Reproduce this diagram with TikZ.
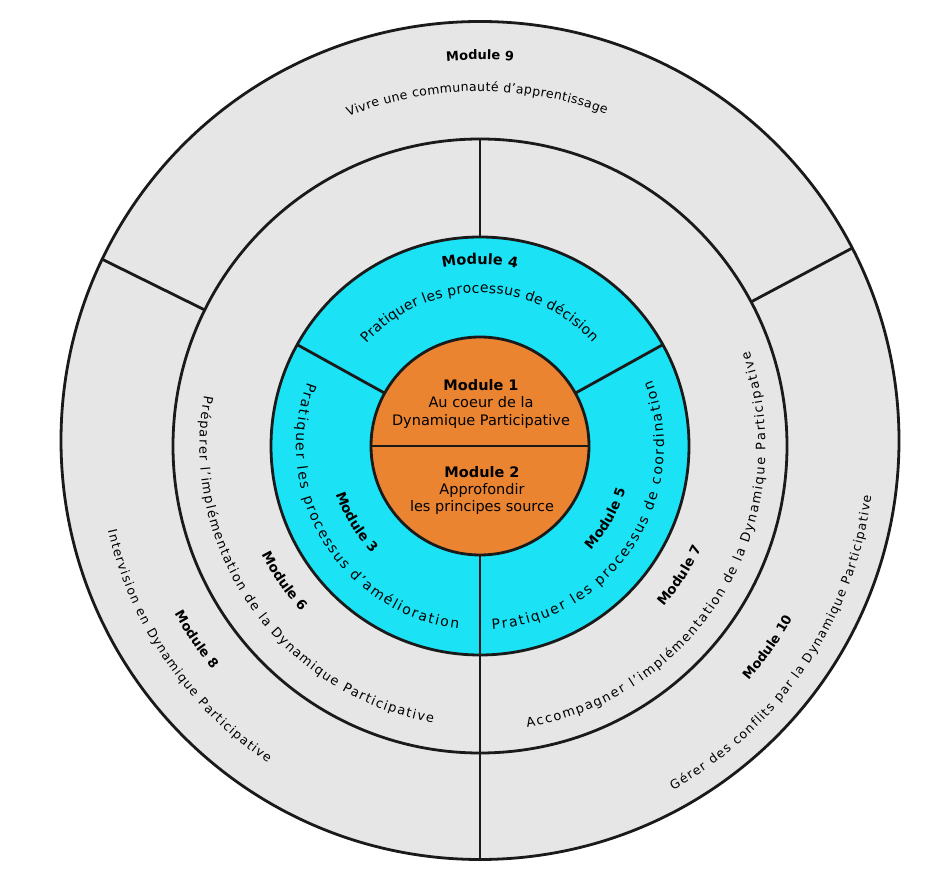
\documentclass[tikz,border=0pt]{standalone}
\usepackage{fontspec}
\setmainfont{DejaVu Sans}
\usetikzlibrary{decorations.text}
\definecolor{ringgray}{RGB}{230,230,230}
\definecolor{ringcyan}{RGB}{27,227,245}
\definecolor{coreorange}{RGB}{235,132,49}
\definecolor{edgecol}{RGB}{26,26,26}
% clockwise arc label (letters upright at top): #1 centre angle, #2 baseline radius, #3 format, #4 text
\newcommand\ringtextcw[4]{%
  \path[decorate,decoration={text along path,text align=center,text={|#3|#4}}]
    ([shift={({#1+90}:#2)}]C) arc[start angle={#1+90},end angle={#1-90},radius=#2];}
% counter-clockwise arc label (letters upright at bottom)
\newcommand\ringtextccw[4]{%
  \path[decorate,decoration={text along path,text align=center,text={|#3|#4}}]
    ([shift={({#1-90}:#2)}]C) arc[start angle={#1-90},end angle={#1+90},radius=#2];}
% text spread over an arc: #1 start angle, #2 end angle, #3 baseline radius, #4 format, #5 text
\newcommand\ringtextfit[5]{%
  \path[decorate,decoration={text along path,text align={fit to path},text={|#4|#5}}]
    ([shift={(#1:#3)}]C) arc[start angle=#1,end angle=#2,radius=#3];}
\newcommand\lblbig{\bfseries\fontsize{14.5}{17}\selectfont}
\newcommand\lblmid{\bfseries\fontsize{13.5}{16}\selectfont}
\newcommand\lblout{\bfseries\fontsize{13}{15}\selectfont}
\newcommand\outfont{\fontsize{12.5}{15}\selectfont}
\newcommand\midfont{\fontsize{13}{15}\selectfont}
\newcommand\cyfont{\fontsize{14}{16}\selectfont}
\begin{document}
\begin{tikzpicture}[x=1pt,y=1pt,
  ringline/.style={draw=edgecol,line width=2.8pt},
  divider/.style={draw=edgecol,line width=2.8pt},
  coretext/.style={align=center,font=\fontsize{14.5}{17.3}\selectfont,inner sep=0pt}]
\useasboundingbox (0,0) rectangle (942,892);
\fill[white] (0,0) rectangle (942,892);
\coordinate (C) at (480,446);
\coordinate (O) at (480,451.5);
% outer ring
\path[ringline,fill=ringgray] (O) circle[radius=419];
\coordinate (d9a) at ([shift={(153.7:307)}]C);
\coordinate (d9b) at ([shift={(153.7:421.4)}]C);
\coordinate (d10a) at ([shift={(28:307)}]C);
\coordinate (d10b) at ([shift={(28:421.6)}]C);
\coordinate (d8a) at ([shift={(270:307)}]C);
\coordinate (d8b) at ([shift={(270:413.5)}]C);
\draw[divider] (d9a) -- (d9b);
\draw[divider] (d10a) -- (d10b);
\draw[divider] (d8a) -- (d8b);
% middle ring
\path[ringline,fill=ringgray] (C) circle[radius=307];
\coordinate (m6a) at ([shift={(90:209)}]C);
\coordinate (m6b) at ([shift={(90:307)}]C);
\coordinate (m7a) at ([shift={(270:209)}]C);
\coordinate (m7b) at ([shift={(270:307)}]C);
\draw[divider] (m6a) -- (m6b);
\draw[divider] (m7a) -- (m7b);
% cyan ring
\path[ringline,fill=ringcyan] (C) circle[radius=209];
\coordinate (c4a) at ([shift={(151:109)}]C);
\coordinate (c4b) at ([shift={(151:209)}]C);
\coordinate (c5a) at ([shift={(29:109)}]C);
\coordinate (c5b) at ([shift={(29:209)}]C);
\coordinate (c3a) at ([shift={(270:109)}]C);
\coordinate (c3b) at ([shift={(270:209)}]C);
\draw[divider] (c4a) -- (c4b);
\draw[divider] (c5a) -- (c5b);
\draw[divider] (c3a) -- (c3b);
% core
\path[ringline,fill=coreorange] (C) circle[radius=109];
\coordinate (k1) at ([shift={(180:109)}]C);
\coordinate (k2) at ([shift={(0:109)}]C);
\draw[divider] (k1) -- (k2);
\node[coretext] (mod1) at (481,488) {\textbf{Module 1}\\Au coeur de la\\Dynamique Participative};
\node[coretext] (mod2) at (482,401.3) {\textbf{Module 2}\\Approfondir\\les principes source};
% cyan ring texts
\ringtextcw{90}{181.8}{\lblbig}{Module 4}
\ringtextfit{138}{42.5}{153}{\cyfont}{Pratiquer les processus de décision}
\ringtextccw{211.6}{151.9}{\lblmid}{Module 3}
\ringtextfit{159.7}{263.3}{184}{\cyfont}{Pratiquer les processus d'amélioration}
\ringtextccw{330}{151.9}{\lblmid}{Module 5}
\ringtextfit{273.8}{381}{184}{\cyfont}{Pratiquer les processus de coordination}
% middle ring texts
\ringtextccw{214.6}{243.9}{\lblmid}{Module 6}
\ringtextfit{169.6}{260.4}{280.5}{\midfont}{Préparer l'implémentation de la Dynamique Participative}
\ringtextccw{327}{243.9}{\lblmid}{Module 7}
\ringtextfit{279.5}{379.4}{285.5}{\midfont}{Accompagner l'implémentation de la Dynamique Participative}
% outer ring texts
\ringtextcw{90}{386.3}{\lblout}{Module 9}
\ringtextfit{111.8}{69.2}{354.7}{\outfont}{Vivre une communauté d’apprentissage}
\ringtextccw{214.3}{348.7}{\lblout}{Module 8}
\ringtextfit{192.8}{236.2}{381.5}{\outfont}{Intervision en Dynamique Participative}
\ringtextccw{325}{356.7}{\lblout}{Module 10}
\ringtextfit{299.3}{352.7}{394.5}{\outfont}{Gérer des conflits par la Dynamique Participative}
\end{tikzpicture}
\end{document}
